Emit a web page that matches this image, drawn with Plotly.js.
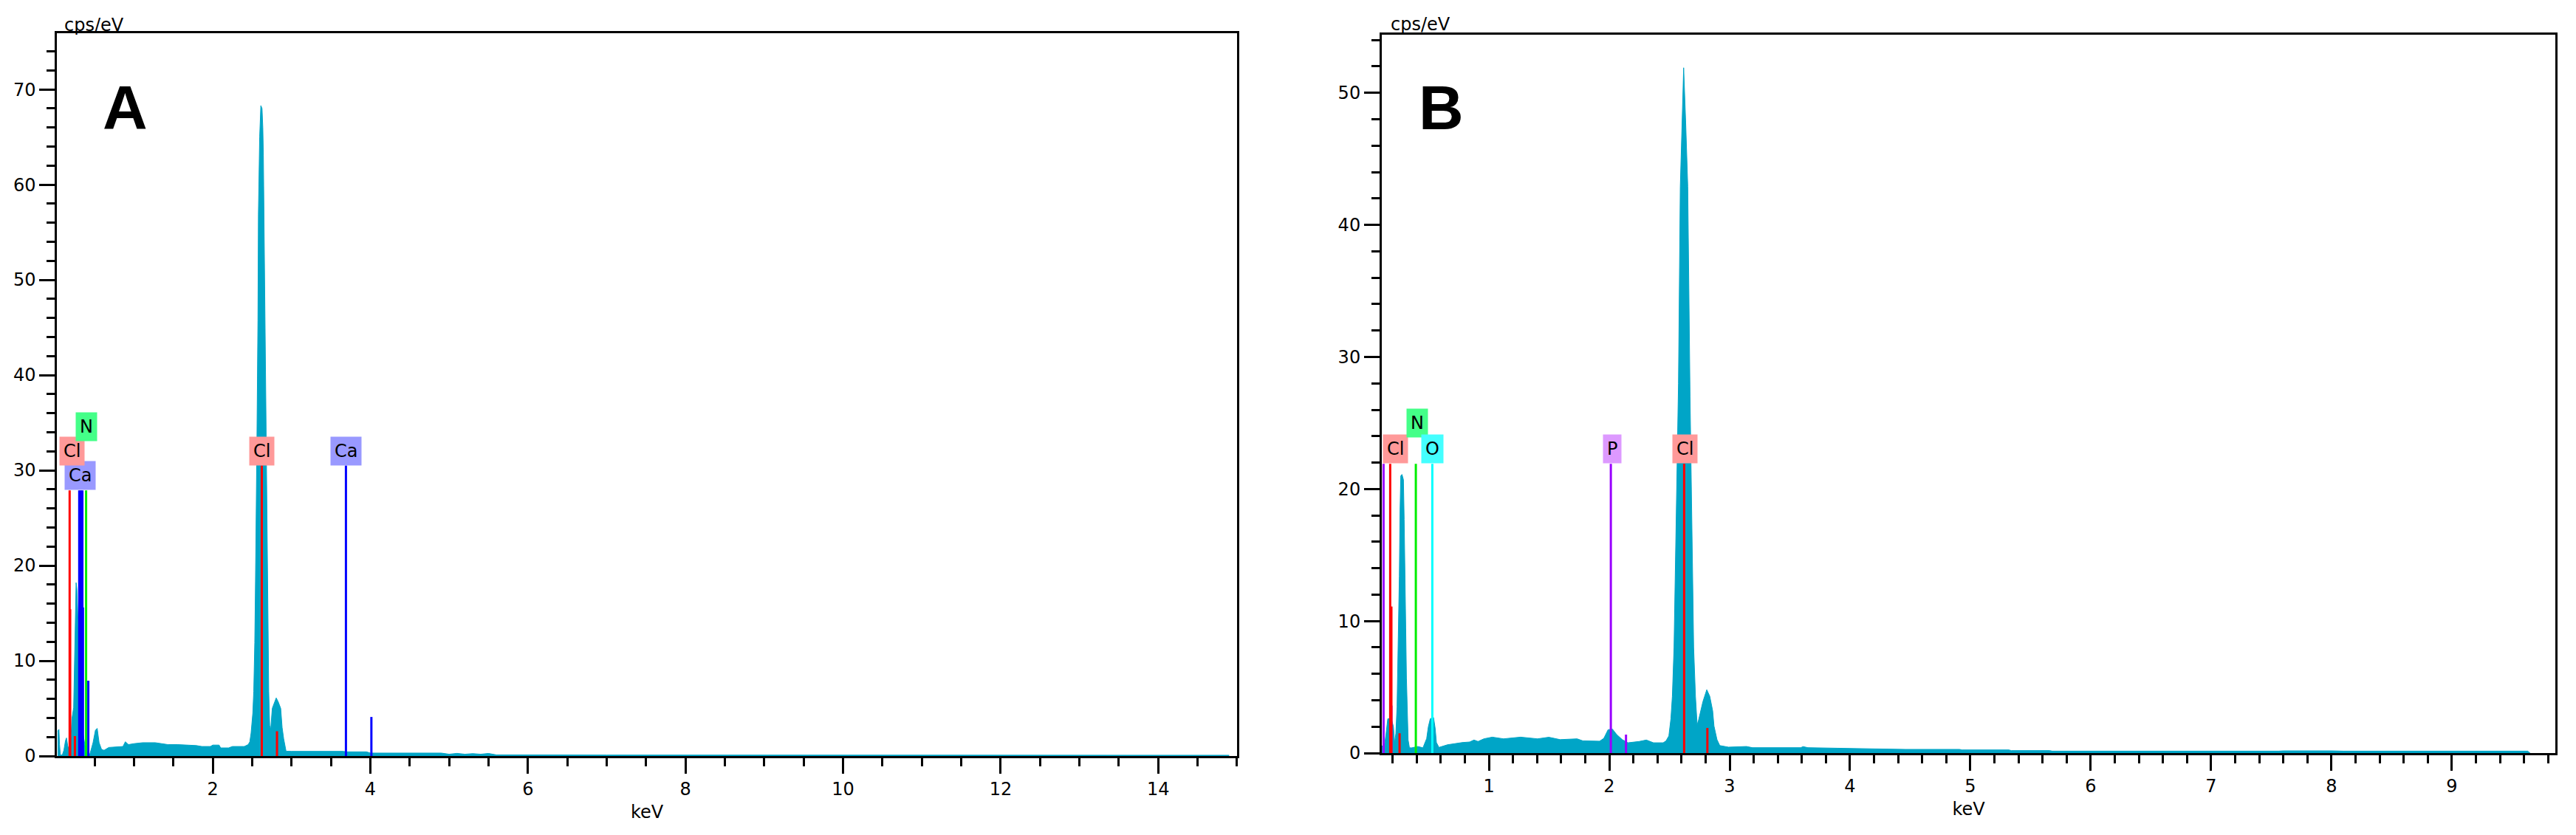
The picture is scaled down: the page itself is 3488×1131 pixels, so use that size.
<!DOCTYPE html>
<html>
<head>
<meta charset="utf-8">
<script src="https://cdn.plot.ly/plotly-3.0.1.min.js"></script>
<style>
  html, body { margin: 0; padding: 0; background: #fff; }
  #eds { width: 3488px; height: 1131px; }
</style>
</head>
<body>
<div id="eds"></div>
<script>
// EDS spectra, panel A and panel B (keV vs cps/eV)

// panel A spectrum
var energyA = [0.03, 0.047, 0.055, 0.065, 0.09, 0.11, 0.13, 0.143, 0.16, 0.18, 0.2, 0.212, 0.234, 0.243,
  0.252, 0.265, 0.275, 0.29, 0.31, 0.33, 0.35, 0.38, 0.41, 0.44, 0.48, 0.51, 0.533, 0.557, 0.588,
  0.62, 0.68, 0.8, 0.86, 0.89, 0.93, 1.0, 1.11, 1.27, 1.43, 1.55, 1.79, 1.86, 1.97, 2.0, 2.08, 2.1,
  2.2, 2.25, 2.4, 2.45, 2.47, 2.486, 2.508, 2.52, 2.533, 2.542, 2.548, 2.56, 2.573, 2.579, 2.595,
  2.61, 2.625, 2.635, 2.642, 2.657, 2.666, 2.685, 2.697, 2.71, 2.722, 2.735, 2.755, 2.78, 2.805,
  2.83, 2.862, 2.88, 2.9, 2.93, 3.0, 3.65, 3.7, 3.95, 4.0, 4.9, 5.0, 5.1, 5.2, 5.3, 5.4, 5.5, 5.6,
  7.0, 10.0, 14.9];
var countsA = [2.6, 2.8, 1.2, 0.1, 0.1, 0.6, 1.6, 1.9, 1.0, 0.8, 2.0, 3.9, 5.1, 9.6,
  14.0, 18.2, 17.5, 14.0, 9.0, 5.0, 2.5, 1.0, 0.4, 0.2, 1.4, 2.7, 2.9, 1.4, 0.7,
  0.6, 0.9, 1.0, 1.0, 1.5, 1.2, 1.3, 1.4, 1.4, 1.2, 1.2, 1.1, 1.0, 1.0, 1.15, 1.15, 0.85,
  0.85, 1.0, 1.0, 1.2, 1.5, 2.4, 4.5, 6.8, 11.9, 18.3, 25.2, 33.0, 45.7, 56.9, 65.0,
  68.3, 68.0, 66.0, 63.1, 50.7, 38.5, 24.3, 14.2, 6.8, 3.2, 2.8, 5.0, 5.6, 6.1,
  5.7, 5.0, 3.0, 1.8, 0.5, 0.49, 0.49, 0.44, 0.44, 0.31, 0.31, 0.19, 0.28, 0.19, 0.25, 0.19, 0.27, 0.12,
  0.1, 0.08, 0.08];

// panel B spectrum
var energyB = [0.11, 0.135, 0.145, 0.16, 0.19, 0.207, 0.217, 0.227, 0.237, 0.244, 0.25, 0.256, 0.262,
  0.268, 0.278, 0.29, 0.296, 0.303, 0.309, 0.315, 0.321, 0.329, 0.34, 0.36, 0.41, 0.452, 0.483,
  0.497, 0.513, 0.54, 0.554, 0.564, 0.585, 0.656, 0.779, 0.84, 0.876, 0.91, 0.958, 1.028, 1.122,
  1.263, 1.404, 1.498, 1.592, 1.733, 1.78, 1.92, 1.955, 1.99, 2.026, 2.062, 2.108, 2.155, 2.249,
  2.308, 2.367, 2.448, 2.472, 2.495, 2.512, 2.524, 2.538, 2.554, 2.575, 2.59, 2.605, 2.618, 2.635,
  2.652, 2.671, 2.687, 2.701, 2.716, 2.73, 2.742, 2.754, 2.778, 2.81, 2.835, 2.859, 2.87, 2.895,
  2.918, 2.99, 3.14, 3.19, 3.59, 3.61, 3.65, 3.89, 4.13, 4.36, 4.46, 4.91, 4.93, 5.32, 5.34, 5.66,
  5.68, 7.56, 7.6, 8.0, 8.1, 9.63, 9.65];
var countsB = [0.5, 0.75, 1.4, 2.6, 2.6, 2.0, 0.75, 1.5, 3.5, 6.7, 9.7, 13.4, 18.4,
  21.0, 21.1, 20.7, 17.7, 14.2, 9.5, 5.7, 3.2, 1.0, 0.4, 0.4, 0.5, 0.4, 1.1,
  2.0, 2.6, 2.7, 1.85, 0.8, 0.43, 0.63, 0.8, 0.84, 0.99, 0.88, 1.08, 1.21, 1.08,
  1.21, 1.08, 1.2, 1.02, 1.08, 0.93, 0.9, 1.12, 1.77, 1.82, 1.4, 1.02, 0.78, 0.88,
  0.99, 0.78, 0.78, 0.93, 1.3, 2.6, 4.29, 8.0, 17.0, 28.0, 42.9, 47.7, 51.9, 47.7,
  42.9, 27.0, 17.0, 8.0, 4.3, 2.14, 2.5, 2.98, 3.9, 4.8, 4.3, 3.2, 2.05, 1.02,
  0.57, 0.45, 0.5, 0.41, 0.41, 0.49, 0.41, 0.37, 0.34, 0.3, 0.28, 0.28, 0.24, 0.24, 0.19, 0.19,
  0.15, 0.15, 0.17, 0.17, 0.15, 0.15, 0];

// element marker lines: element, energy (keV), height (cps/eV)
var lineElemA = ['Cl', 'Cl', 'Cl', 'Cl', 'Cl', 'Ca', 'Ca', 'Ca', 'Ca', 'Ca', 'Ca', 'Ca', 'N'];
var lineKevA = [0.183, 0.19, 0.25, 2.622, 2.815, 0.305, 0.325, 0.345, 0.352, 0.42, 3.69, 4.013, 0.392];
var lineHtA = [27.9, 15.4, 2.1, 30.5, 2.6, 27.9, 27.9, 27.9, 15.6, 7.9, 30.5, 4.1, 27.9];

var lineElemB = ['P', 'P', 'P', 'P', 'Cl', 'Cl', 'Cl', 'Cl', 'Cl', 'N', 'O'];
var lineKevB = [0.125, 0.19, 2.013, 2.139, 0.18, 0.19, 0.258, 2.622, 2.815, 0.393, 0.53];
var lineHtB = [21.9, 3.6, 21.9, 1.4, 21.9, 11.1, 1.5, 21.9, 1.9, 21.9, 21.9];

// element labels: text, energy of label centre, cps/eV of label bottom
var labelTextA = ['Ca', 'Cl', 'N', 'Cl', 'Ca'];
var labelKevA = [0.313, 0.215, 0.40, 2.62, 3.69];
var labelLevelA = [27.9, 30.5, 33.0, 30.5, 30.5];

var labelTextB = ['Cl', 'N', 'O', 'P', 'Cl'];
var labelKevB = [0.222, 0.402, 0.53, 2.025, 2.629];
var labelLevelB = [21.9, 23.9, 21.9, 21.9, 21.9];

var lineColour = {Cl: '#ff0000', Ca: '#0000ff', N: '#00ee00', O: '#00ffff', P: '#9900ff'};
var boxColour = {Cl: '#ff9999', Ca: '#9999ff', N: '#44ff88', O: '#44ffff', P: '#dd99ff'};
var fillColour = '#00a5c7';
var font = 'DejaVu Sans, Verdana, sans-serif';
var bold = 'Liberation Sans Narrow, Liberation Sans, Arial, sans-serif';

// one trace per element, segments split by nulls
function markerTraces(elems, kev, ht, xa, ya) {
  var out = [];
  var names = elems.filter(function (e, i) { return elems.indexOf(e) === i; });
  names.forEach(function (name) {
    var xs = [], ys = [];
    for (var i = 0; i < elems.length; i++) {
      if (elems[i] !== name) continue;
      xs.push(kev[i], kev[i], null);
      ys.push(0, ht[i], null);
    }
    out.push({
      x: xs, y: ys, xaxis: xa, yaxis: ya, type: 'scatter', mode: 'lines',
      line: {color: lineColour[name], width: 3}, hoverinfo: 'skip', showlegend: false
    });
  });
  return out;
}

function labelNotes(text, kev, level, xa, ya) {
  return text.map(function (t, i) {
    return {
      x: kev[i], y: level[i], xref: xa, yref: ya, text: t, showarrow: false,
      xanchor: 'center', yanchor: 'bottom', bgcolor: boxColour[t], borderpad: 5,
      font: {family: font, size: 24, color: '#000'}
    };
  });
}

var spectrumA = {
  x: energyA, y: countsA, xaxis: 'x', yaxis: 'y', type: 'scatter', mode: 'lines',
  fill: 'tozeroy', fillcolor: fillColour, line: {color: fillColour, width: 1},
  showlegend: false
};
var spectrumB = {
  x: energyB, y: countsB, xaxis: 'x2', yaxis: 'y2', type: 'scatter', mode: 'lines',
  fill: 'tozeroy', fillcolor: fillColour, line: {color: fillColour, width: 1},
  showlegend: false
};

var data = [spectrumA, spectrumB]
  .concat(markerTraces(lineElemA, lineKevA, lineHtA, 'x', 'y'))
  .concat(markerTraces(lineElemB, lineKevB, lineHtB, 'x2', 'y2'));

function axisStyle(extra) {
  var base = {
    showgrid: false, zeroline: false, showline: true, mirror: true,
    linecolor: '#000', linewidth: 3, ticks: 'outside', ticklen: 21, tickwidth: 3,
    tickcolor: '#000', tickfont: {family: font, size: 24, color: '#000'},
    fixedrange: true
  };
  for (var k in extra) base[k] = extra[k];
  return base;
}

function minorTicks(step) {
  return {tick0: 0, dtick: step, ticks: 'outside', ticklen: 11, tickwidth: 3,
    tickcolor: '#000', showgrid: false};
}

var notes = []
  .concat(labelNotes(labelTextA, labelKevA, labelLevelA, 'x', 'y'))
  .concat(labelNotes(labelTextB, labelKevB, labelLevelB, 'x2', 'y2'))
  .concat([
    {x: 0.0486, y: 0.871, xref: 'paper', yref: 'paper', text: '<b>A</b>', showarrow: false,
      xanchor: 'center', yanchor: 'middle', font: {family: bold, size: 84, color: '#000'}},
    {x: 0.5596, y: 0.871, xref: 'paper', yref: 'paper', text: '<b>B</b>', showarrow: false,
      xanchor: 'center', yanchor: 'middle', font: {family: bold, size: 84, color: '#000'}},
    {x: 0.0245, y: 0.97, xref: 'paper', yref: 'paper', text: 'cps/eV', showarrow: false,
      xanchor: 'left', yanchor: 'middle', font: {family: font, size: 24, color: '#000'}},
    {x: 0.5392, y: 0.971, xref: 'paper', yref: 'paper', text: 'cps/eV', showarrow: false,
      xanchor: 'left', yanchor: 'middle', font: {family: font, size: 24, color: '#000'}}
  ]);

var layout = {
  width: 3488, height: 1131,
  margin: {l: 0, r: 0, t: 0, b: 0},
  paper_bgcolor: '#fff', plot_bgcolor: '#fff',
  showlegend: false,
  xaxis: axisStyle({domain: [0.0222, 0.4802], range: [0.025, 15], dtick: 2, tick0: 0,
    minor: minorTicks(0.5),
    title: {text: 'keV', standoff: 10, font: {family: font, size: 24, color: '#000'}}, anchor: 'y'}),
  yaxis: axisStyle({domain: [0.0946, 0.9602], range: [0, 75.9], dtick: 10, tick0: 0,
    minor: minorTicks(2), anchor: 'x'}),
  xaxis2: axisStyle({domain: [0.5364, 0.9920], range: [0.11, 9.86], dtick: 1, tick0: 0,
    minor: minorTicks(0.2),
    title: {text: 'keV', standoff: 10, font: {family: font, size: 24, color: '#000'}}, anchor: 'y2'}),
  yaxis2: axisStyle({domain: [0.0981, 0.9584], range: [0, 54.4], dtick: 10, tick0: 0,
    minor: minorTicks(2), anchor: 'x2'}),
  annotations: notes
};

Plotly.newPlot('eds', data, layout, {displayModeBar: false, staticPlot: true});
</script>
</body>
</html>
